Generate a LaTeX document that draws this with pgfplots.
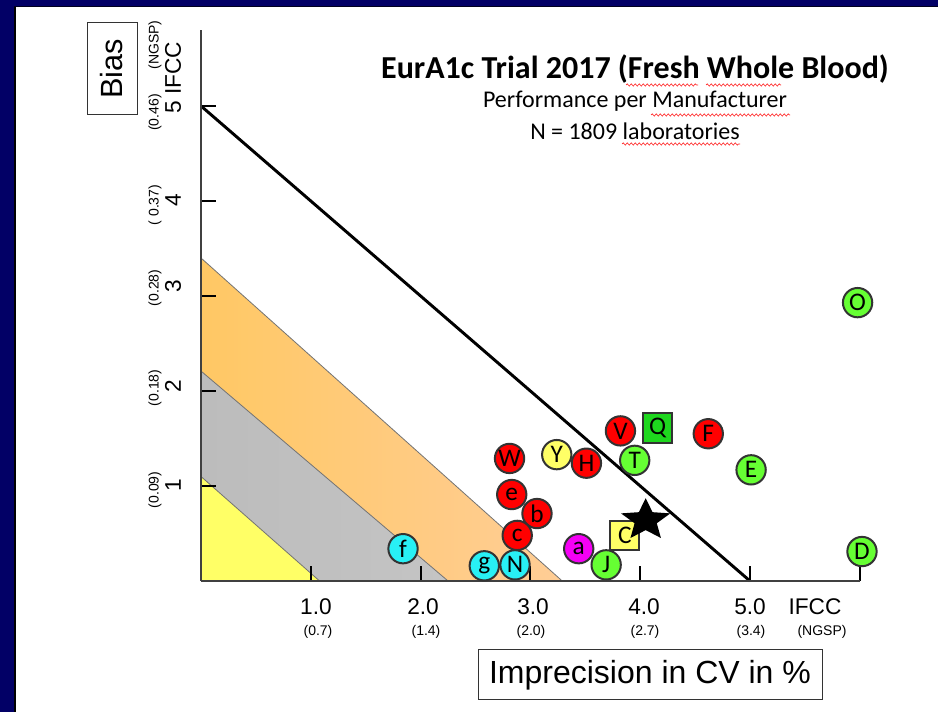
\documentclass[border=0pt]{standalone}
\usepackage{fontspec}
\setmainfont{Liberation Sans}
\newfontfamily\calib{Carlito}
\usepackage{pgfplots}
\pgfplotsset{compat=1.18}
\usetikzlibrary{decorations.pathmorphing}

\definecolor{navy}{RGB}{2,0,102}
\definecolor{cRed}{RGB}{255,0,0}
\definecolor{cGreen}{RGB}{102,255,51}
\definecolor{cGreenSq}{RGB}{30,215,30}
\definecolor{cCyan}{RGB}{40,240,245}
\definecolor{cYellow}{RGB}{255,255,102}
\definecolor{cMag}{RGB}{245,0,245}
\definecolor{orL}{RGB}{255,200,100}
\definecolor{orR}{RGB}{255,205,150}
\definecolor{grL}{RGB}{188,188,188}
\definecolor{grM}{RGB}{222,222,222}
\definecolor{grR}{RGB}{196,196,196}
\definecolor{yeL}{RGB}{255,255,102}
\definecolor{yeM}{RGB}{255,255,150}

\pgfdeclareplotmark{fstar}{%
  \pgfpathmoveto{\pgfqpoint{0pt}{16.5pt}}%
  \pgfpathlineto{\pgfqpoint{-5.14pt}{6.01pt}}%
  \pgfpathlineto{\pgfqpoint{-18.5pt}{5.10pt}}%
  \pgfpathlineto{\pgfqpoint{-8.32pt}{-2.30pt}}%
  \pgfpathlineto{\pgfqpoint{-11.43pt}{-13.35pt}}%
  \pgfpathlineto{\pgfqpoint{0pt}{-7.43pt}}%
  \pgfpathlineto{\pgfqpoint{11.43pt}{-13.35pt}}%
  \pgfpathlineto{\pgfqpoint{8.32pt}{-2.30pt}}%
  \pgfpathlineto{\pgfqpoint{18.5pt}{5.10pt}}%
  \pgfpathlineto{\pgfqpoint{5.14pt}{6.01pt}}%
  \pgfpathclose
  \pgfusepathqfill}

\pgfplotsset{ptc/.style={only marks, mark=*, mark size=11pt,
   mark options={draw=black!80, line width=1.5pt, fill=#1},
   nodes near coords, point meta=explicit symbolic,
   every node near coord/.append style={anchor=center, text=black, inner sep=0pt,
     font=\calib\fontsize{19pt}{19pt}\selectfont}}}

\begin{document}
\begin{tikzpicture}
\begin{scope}[x=0.75pt,y=-0.75pt,shift={(0pt,534pt)}]
  \fill[white] (0,0) rectangle (938,712);
  \fill[navy] (0,0) rectangle (938,6);
  \fill[navy] (0,0) rectangle (14,712);
  \fill[black] (14,6) rectangle (16,712);
  \fill[black!70!navy] (14,6) rectangle (938,7);
\end{scope}

\begin{axis}[
  at={(150.75pt,98.25pt)}, anchor=south west,
  scale only axis, width=494.1pt, height=413.25pt,
  xmin=0, xmax=6, ymin=0, ymax=5.8,
  axis x line*=bottom, axis y line*=left,
  axis line style={-, line width=0.9pt, black!75},
  xtick={1,2,3,4,5,6}, ytick={1,2,3,4,5},
  xticklabels={,,,,,}, yticklabels={,,,,},
  tick align=inside, major tick length=11pt,
  major tick style={line width=1.5pt, black},
  clip=false, axis on top,
]
% bands
\addplot[draw=none, left color=orL, right color=orR] coordinates {(0,0) (0,3.40) (3.29,0)} -- cycle;
\addplot[draw=none, left color=grL, middle color=grM, right color=grR] coordinates {(0,0) (0,2.21) (2.25,0)} -- cycle;
\addplot[draw=none, left color=yeL, middle color=yeM, right color=yeL] coordinates {(0,0) (0,1.10) (1.08,0)} -- cycle;
\addplot[black!55, line width=0.6pt] coordinates {(0,3.40) (3.29,0)};
\addplot[black!55, line width=0.6pt] coordinates {(0,2.21) (2.25,0)};
\addplot[black!55, line width=0.6pt] coordinates {(0,1.10) (1.08,0)};
% limit line
\addplot[black, line width=2.2pt] coordinates {(0,5) (5,0)};
% manufacturers
\addplot[ptc=cYellow] table[meta=l] {
x y l
3.24 1.33 Y
};
\addplot[ptc=cRed] table[meta=l] {
x y l
2.81 1.29 W
2.83 0.91 e
3.06 0.71 b
2.88 0.48 c
3.51 1.24 H
3.82 1.58 V
4.62 1.55 F
};
\addplot[ptc=cCyan] table[meta=l] {
x y l
1.84 0.34 f
2.58 0.16 g
2.86 0.17 N
};
\addplot[ptc=cMag] table[meta=l] {
x y l
3.44 0.34 a
};
\addplot[ptc=cGreen] table[meta=l] {
x y l
3.95 1.27 T
3.69 0.17 J
5.01 1.17 E
5.98 2.93 O
6.02 0.31 D
};
\addplot[ptc=cGreenSq, mark=square*] table[meta=l] {
x y l
4.16 1.61 Q
};
\addplot[ptc=cYellow, mark=square*] table[meta=l] {
x y l
3.86 0.48 C
};
\addplot[only marks, mark=fstar, black] coordinates {(4.05,0.64)};
\end{axis}

\begin{scope}[x=0.75pt,y=-0.75pt,shift={(0pt,534pt)}]
  % title
  \node[font=\calib\bfseries\fontsize{24pt}{26pt}\selectfont] at (635,69) {EurA1c Trial 2017 (Fresh Whole Blood)};
  \node[font=\calib\fontsize{18pt}{20pt}\selectfont] at (635,101) {Performance per Manufacturer};
  \node[font=\calib\fontsize{18pt}{20pt}\selectfont] at (635,131) {N = 1809 laboratories};
  \begin{scope}[red!85, line width=0.5pt, decoration={snake, amplitude=0.8pt, segment length=3pt}]
    \draw[decorate] (626,85) -- (698,85);
    \draw[decorate] (706,85) -- (781,85);
    \draw[decorate] (651,115) -- (790,115);
    \draw[decorate] (622,144) -- (740,144);
  \end{scope}
  % x tick labels
  \begin{scope}[font=\fontsize{17pt}{18pt}\selectfont]
    \node at (316,607) {1.0};
    \node at (423,607) {2.0};
    \node at (533,607) {3.0};
    \node at (644,607) {4.0};
    \node at (750,607) {5.0};
    \node at (815,607) {IFCC};
  \end{scope}
  \begin{scope}[font=\fontsize{10.5pt}{12pt}\selectfont]
    \node at (318,632) {(0.7)};
    \node at (426,632) {(1.4)};
    \node at (531,632) {(2.0)};
    \node at (645,632) {(2.7)};
    \node at (751,632) {(3.4)};
    \node at (822,632) {(NGSP)};
  \end{scope}
  % y tick labels
  \begin{scope}[font=\fontsize{17pt}{18pt}\selectfont]
    \node[rotate=90] at (173,485) {1};
    \node[rotate=90] at (173,386) {2};
    \node[rotate=90] at (173,286) {3};
    \node[rotate=90] at (173,200) {4};
  \end{scope}
  \node[rotate=90, anchor=west, inner sep=0pt, font=\fontsize{17pt}{18pt}\selectfont] at (173,114) {5 IFCC};
  \begin{scope}[font=\fontsize{10.5pt}{12pt}\selectfont]
    \node[rotate=90] at (155,490) {(0.09)};
    \node[rotate=90] at (155,388) {(0.18)};
    \node[rotate=90] at (155,288) {(0.28)};
    \node[rotate=90] at (155,205) {( 0.37)};
    \node[rotate=90, anchor=west, inner sep=0pt] at (155,131) {(0.46)\hspace{18.5pt}(NGSP)};
  \end{scope}
  % axis titles
  \node[draw=black!80, line width=0.75pt, rotate=90, minimum width=69pt, minimum height=37.5pt, inner sep=0pt,
        font=\fontsize{23pt}{24pt}\selectfont] at (112,69) {Bias};
  \node[draw=black!80, line width=0.75pt, minimum width=258pt, minimum height=37.5pt, inner sep=0pt,
        font=\fontsize{24pt}{25pt}\selectfont] at (650,675) {Imprecision in CV in \%};
\end{scope}
\end{tikzpicture}
\end{document}
